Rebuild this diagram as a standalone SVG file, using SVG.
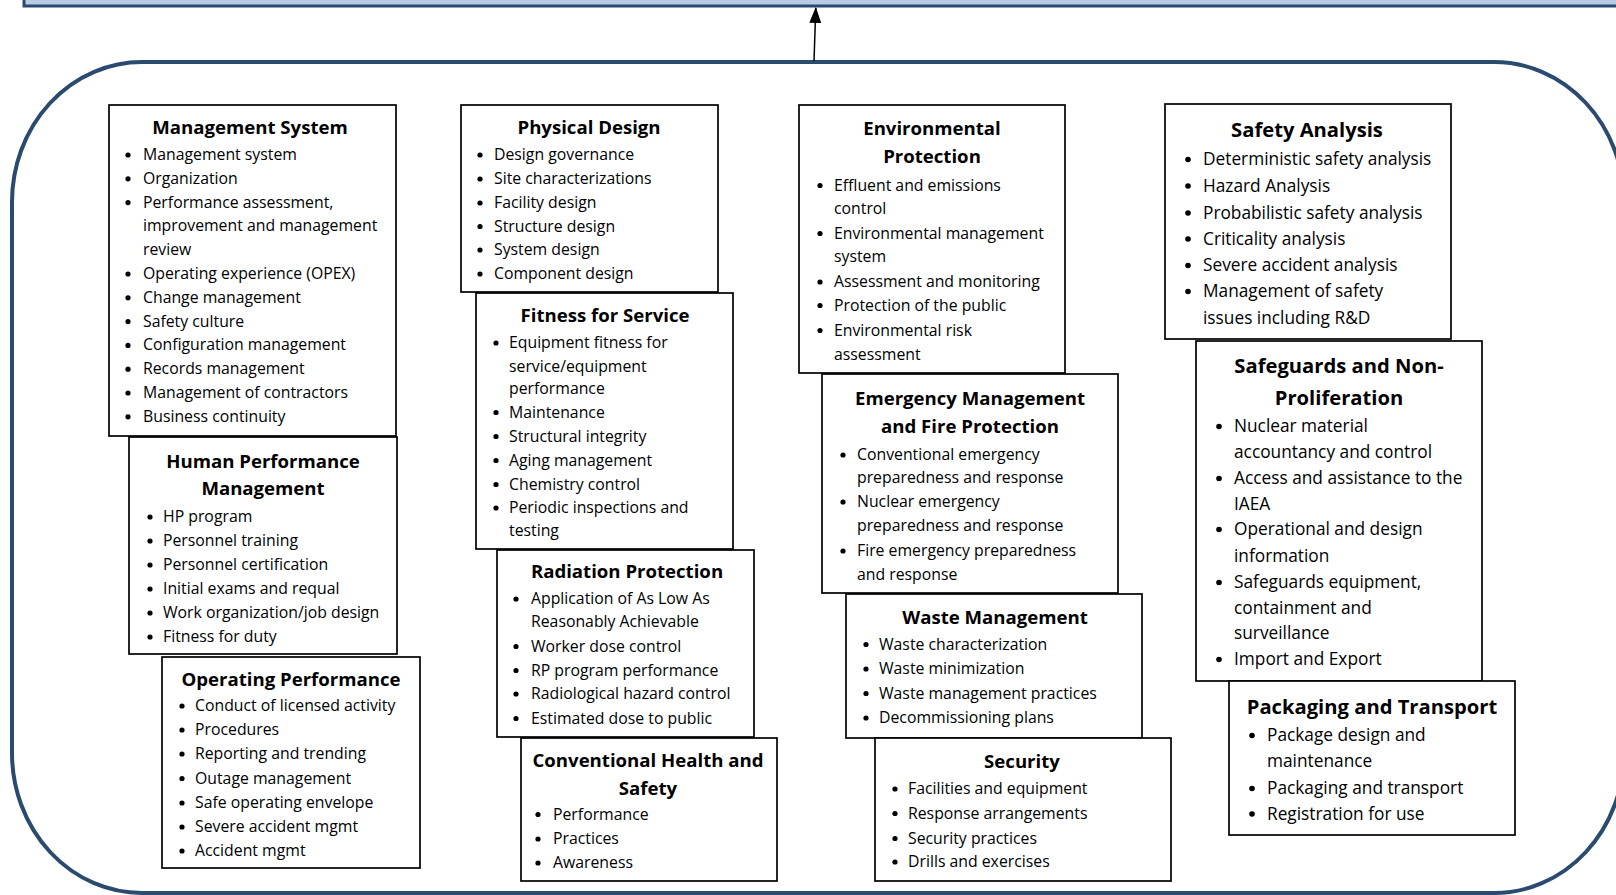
<svg xmlns="http://www.w3.org/2000/svg" width="1616" height="895" viewBox="0 0 1616 895">
<style>
.box{fill:#fff;stroke:#000;stroke-width:1.7}
.t{font-family:"Open Sans","Noto Sans",sans-serif;font-weight:bold;font-size:18.6px;fill:#000;text-anchor:middle}
.i{font-family:"Open Sans","Noto Sans",sans-serif;font-size:15.8px;fill:#000}
.t4{font-family:"Open Sans","Noto Sans",sans-serif;font-weight:bold;font-size:20.2px;fill:#000;text-anchor:middle}
.i4{font-family:"Open Sans","Noto Sans",sans-serif;font-size:17.3px;fill:#000}
.b{fill:#000}
.frame{fill:#fff;stroke:#2a4a70;stroke-width:4}
.band{fill:#b8cce4;stroke:#2a4a70;stroke-width:3}
.conn{stroke:#000;stroke-width:1.5;fill:none}
</style>
<defs>
<marker id="ah" markerWidth="16" markerHeight="12" refX="15" refY="6" orient="auto" markerUnits="userSpaceOnUse" viewBox="0 0 16 12">
<path d="M0,0 L16,6 L0,12 z" fill="#000"/>
</marker>
</defs>
<rect x="0" y="0" width="1616" height="895" fill="#fff"/>
<g id="top-band"><rect class="band" x="24" y="-10" width="1610" height="16"/></g>
<g id="container"><rect class="frame" x="12" y="62" width="1612" height="831" rx="130" ry="140"/></g>
<g id="connectors">
<line class="conn" x1="814" y1="61" x2="815.8" y2="8" marker-end="url(#ah)"/>
</g>

<g id="management-system">
<rect class="box" x="109" y="105" width="287" height="331"/>
<text class="t" x="250" y="134">Management System</text>
<g class="b"><circle cx="128" cy="155" r="2.6"/><circle cx="128" cy="178.8" r="2.6"/><circle cx="128" cy="202.6" r="2.6"/><circle cx="128" cy="274" r="2.6"/><circle cx="128" cy="297.8" r="2.6"/><circle cx="128" cy="321.6" r="2.6"/><circle cx="128" cy="345.4" r="2.6"/><circle cx="128" cy="369.2" r="2.6"/><circle cx="128" cy="393" r="2.6"/><circle cx="128" cy="416.8" r="2.6"/></g>
<text class="i" x="143" y="160">Management system</text>
<text class="i" x="143" y="183.8">Organization</text>
<text class="i" x="143" y="207.6">Performance assessment,</text>
<text class="i" x="143" y="231.4">improvement and management</text>
<text class="i" x="143" y="255.2">review</text>
<text class="i" x="143" y="279">Operating experience (OPEX)</text>
<text class="i" x="143" y="302.8">Change management</text>
<text class="i" x="143" y="326.6">Safety culture</text>
<text class="i" x="143" y="350.4">Configuration management</text>
<text class="i" x="143" y="374.2">Records management</text>
<text class="i" x="143" y="398">Management of contractors</text>
<text class="i" x="143" y="421.8">Business continuity</text>
</g>

<g id="human-performance">
<rect class="box" x="129" y="437" width="268" height="217"/>
<text class="t" x="263" y="468">Human Performance</text>
<text class="t" x="263" y="495">Management</text>
<g class="b"><circle cx="150" cy="517" r="2.6"/><circle cx="150" cy="541" r="2.6"/><circle cx="150" cy="565" r="2.6"/><circle cx="150" cy="589" r="2.6"/><circle cx="150" cy="613" r="2.6"/><circle cx="150" cy="637" r="2.6"/></g>
<text class="i" x="163" y="522">HP program</text>
<text class="i" x="163" y="546">Personnel training</text>
<text class="i" x="163" y="570">Personnel certification</text>
<text class="i" x="163" y="594">Initial exams and requal</text>
<text class="i" x="163" y="618">Work organization/job design</text>
<text class="i" x="163" y="642">Fitness for duty</text>
</g>

<g id="operating-performance">
<rect class="box" x="162" y="657" width="258" height="211"/>
<text class="t" x="291" y="686">Operating Performance</text>
<g class="b"><circle cx="182" cy="706" r="2.6"/><circle cx="182" cy="730" r="2.6"/><circle cx="182" cy="754" r="2.6"/><circle cx="182" cy="778.5" r="2.6"/><circle cx="182" cy="803" r="2.6"/><circle cx="182" cy="827" r="2.6"/><circle cx="182" cy="851" r="2.6"/></g>
<text class="i" x="195" y="711">Conduct of licensed activity</text>
<text class="i" x="195" y="735">Procedures</text>
<text class="i" x="195" y="759">Reporting and trending</text>
<text class="i" x="195" y="783.5">Outage management</text>
<text class="i" x="195" y="808">Safe operating envelope</text>
<text class="i" x="195" y="832">Severe accident mgmt</text>
<text class="i" x="195" y="856">Accident mgmt</text>
</g>

<g id="physical-design">
<rect class="box" x="461" y="105" width="257" height="187"/>
<text class="t" x="589" y="134">Physical Design</text>
<g class="b"><circle cx="480" cy="155" r="2.6"/><circle cx="480" cy="179" r="2.6"/><circle cx="480" cy="203" r="2.6"/><circle cx="480" cy="226.5" r="2.6"/><circle cx="480" cy="250" r="2.6"/><circle cx="480" cy="274" r="2.6"/></g>
<text class="i" x="494" y="160">Design governance</text>
<text class="i" x="494" y="184">Site characterizations</text>
<text class="i" x="494" y="208">Facility design</text>
<text class="i" x="494" y="231.5">Structure design</text>
<text class="i" x="494" y="255">System design</text>
<text class="i" x="494" y="279">Component design</text>
</g>

<g id="fitness-for-service">
<rect class="box" x="476" y="293" width="257" height="256"/>
<text class="t" x="605" y="322">Fitness for Service</text>
<g class="b"><circle cx="496" cy="343" r="2.6"/><circle cx="496" cy="412.5" r="2.6"/><circle cx="496" cy="436.5" r="2.6"/><circle cx="496" cy="460.5" r="2.6"/><circle cx="496" cy="484.5" r="2.6"/><circle cx="496" cy="508" r="2.6"/></g>
<text class="i" x="509" y="348">Equipment fitness for</text>
<text class="i" x="509" y="371.5">service/equipment</text>
<text class="i" x="509" y="394">performance</text>
<text class="i" x="509" y="417.5">Maintenance</text>
<text class="i" x="509" y="441.5">Structural integrity</text>
<text class="i" x="509" y="465.5">Aging management</text>
<text class="i" x="509" y="489.5">Chemistry control</text>
<text class="i" x="509" y="513">Periodic inspections and</text>
<text class="i" x="509" y="536">testing</text>
</g>

<g id="radiation-protection">
<rect class="box" x="497" y="550" width="257" height="187"/>
<text class="t" x="627" y="578">Radiation Protection</text>
<g class="b"><circle cx="516" cy="599" r="2.6"/><circle cx="516" cy="646.5" r="2.6"/><circle cx="516" cy="670.5" r="2.6"/><circle cx="516" cy="694" r="2.6"/><circle cx="516" cy="718.5" r="2.6"/></g>
<text class="i" x="531" y="604">Application of As Low As</text>
<text class="i" x="531" y="627">Reasonably Achievable</text>
<text class="i" x="531" y="651.5">Worker dose control</text>
<text class="i" x="531" y="675.5">RP program performance</text>
<text class="i" x="531" y="699">Radiological hazard control</text>
<text class="i" x="531" y="723.5">Estimated dose to public</text>
</g>

<g id="conventional-health-safety">
<rect class="box" x="521" y="738" width="256" height="143"/>
<text class="t" x="648" y="767">Conventional Health and</text>
<text class="t" x="648" y="795">Safety</text>
<g class="b"><circle cx="538" cy="814.5" r="2.6"/><circle cx="538" cy="839" r="2.6"/><circle cx="538" cy="863" r="2.6"/></g>
<text class="i" x="553" y="819.5">Performance</text>
<text class="i" x="553" y="844">Practices</text>
<text class="i" x="553" y="868">Awareness</text>
</g>

<g id="environmental-protection">
<rect class="box" x="799" y="105" width="266" height="268"/>
<text class="t" x="932" y="135">Environmental</text>
<text class="t" x="932" y="163">Protection</text>
<g class="b"><circle cx="820" cy="185.5" r="2.6"/><circle cx="820" cy="233.5" r="2.6"/><circle cx="820" cy="282" r="2.6"/><circle cx="820" cy="305.5" r="2.6"/><circle cx="820" cy="330.5" r="2.6"/></g>
<text class="i" x="834" y="190.5">Effluent and emissions</text>
<text class="i" x="834" y="214">control</text>
<text class="i" x="834" y="238.5">Environmental management</text>
<text class="i" x="834" y="262">system</text>
<text class="i" x="834" y="287">Assessment and monitoring</text>
<text class="i" x="834" y="310.5">Protection of the public</text>
<text class="i" x="834" y="335.5">Environmental risk</text>
<text class="i" x="834" y="359.5">assessment</text>
</g>

<g id="emergency-management">
<rect class="box" x="822" y="374" width="296" height="219"/>
<text class="t" x="970" y="405">Emergency Management</text>
<text class="t" x="970" y="433">and Fire Protection</text>
<g class="b"><circle cx="843" cy="455" r="2.6"/><circle cx="843" cy="502" r="2.6"/><circle cx="843" cy="551" r="2.6"/></g>
<text class="i" x="857" y="460">Conventional emergency</text>
<text class="i" x="857" y="483">preparedness and response</text>
<text class="i" x="857" y="507">Nuclear emergency</text>
<text class="i" x="857" y="531">preparedness and response</text>
<text class="i" x="857" y="556">Fire emergency preparedness</text>
<text class="i" x="857" y="579.5">and response</text>
</g>

<g id="waste-management">
<rect class="box" x="846" y="594" width="296" height="144"/>
<text class="t" x="995" y="624">Waste Management</text>
<g class="b"><circle cx="866" cy="644.5" r="2.6"/><circle cx="866" cy="669" r="2.6"/><circle cx="866" cy="693.5" r="2.6"/><circle cx="866" cy="718" r="2.6"/></g>
<text class="i" x="879" y="649.5">Waste characterization</text>
<text class="i" x="879" y="674">Waste minimization</text>
<text class="i" x="879" y="698.5">Waste management practices</text>
<text class="i" x="879" y="723">Decommissioning plans</text>
</g>

<g id="security">
<rect class="box" x="875" y="738" width="296" height="143"/>
<text class="t" x="1022" y="768">Security</text>
<g class="b"><circle cx="895" cy="789" r="2.6"/><circle cx="895" cy="813.5" r="2.6"/><circle cx="895" cy="838.5" r="2.6"/><circle cx="895" cy="862" r="2.6"/></g>
<text class="i" x="908" y="794">Facilities and equipment</text>
<text class="i" x="908" y="818.5">Response arrangements</text>
<text class="i" x="908" y="843.5">Security practices</text>
<text class="i" x="908" y="867">Drills and exercises</text>
</g>

<g id="safety-analysis">
<rect class="box" x="1165" y="104" width="286" height="235"/>
<text class="t4" x="1307" y="136.5">Safety Analysis</text>
<g class="b"><circle cx="1188" cy="159.5" r="2.8"/><circle cx="1188" cy="186" r="2.8"/><circle cx="1188" cy="213" r="2.8"/><circle cx="1188" cy="239" r="2.8"/><circle cx="1188" cy="265.5" r="2.8"/><circle cx="1188" cy="291.5" r="2.8"/></g>
<text class="i4" x="1203" y="165">Deterministic safety analysis</text>
<text class="i4" x="1203" y="191.5">Hazard Analysis</text>
<text class="i4" x="1203" y="218.5">Probabilistic safety analysis</text>
<text class="i4" x="1203" y="244.5">Criticality analysis</text>
<text class="i4" x="1203" y="271">Severe accident analysis</text>
<text class="i4" x="1203" y="297">Management of safety</text>
<text class="i4" x="1203" y="323.5">issues including R&amp;D</text>
</g>

<g id="safeguards">
<rect class="box" x="1196" y="341" width="286" height="340"/>
<text class="t4" x="1339" y="373">Safeguards and Non-</text>
<text class="t4" x="1339" y="404.5">Proliferation</text>
<g class="b"><circle cx="1219" cy="426.5" r="2.8"/><circle cx="1219" cy="478.5" r="2.8"/><circle cx="1219" cy="529.5" r="2.8"/><circle cx="1219" cy="582.5" r="2.8"/><circle cx="1219" cy="659.5" r="2.8"/></g>
<text class="i4" x="1234" y="432">Nuclear material</text>
<text class="i4" x="1234" y="458">accountancy and control</text>
<text class="i4" x="1234" y="484">Access and assistance to the</text>
<text class="i4" x="1234" y="509.5">IAEA</text>
<text class="i4" x="1234" y="535">Operational and design</text>
<text class="i4" x="1234" y="562">information</text>
<text class="i4" x="1234" y="588">Safeguards equipment,</text>
<text class="i4" x="1234" y="613.5">containment and</text>
<text class="i4" x="1234" y="639">surveillance</text>
<text class="i4" x="1234" y="665">Import and Export</text>
</g>

<g id="packaging-transport">
<rect class="box" x="1229" y="681" width="286" height="154"/>
<text class="t4" x="1372" y="713.5">Packaging and Transport</text>
<g class="b"><circle cx="1252" cy="735.5" r="2.8"/><circle cx="1252" cy="788.5" r="2.8"/><circle cx="1252" cy="814" r="2.8"/></g>
<text class="i4" x="1267" y="741">Package design and</text>
<text class="i4" x="1267" y="767">maintenance</text>
<text class="i4" x="1267" y="794">Packaging and transport</text>
<text class="i4" x="1267" y="819.5">Registration for use</text>
</g>
</svg>
